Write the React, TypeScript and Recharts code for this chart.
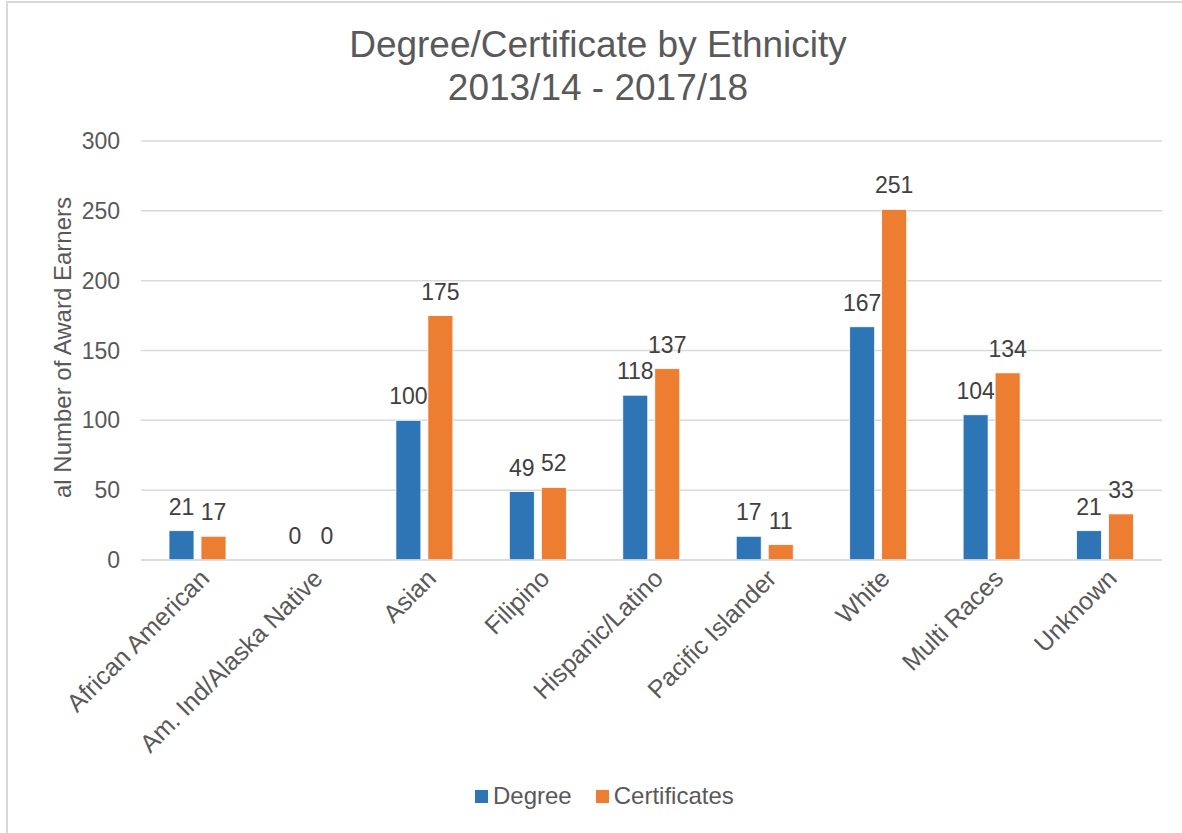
import React from "react";
import { BarChart, Bar, XAxis, YAxis, CartesianGrid } from "recharts";

const categories = [
  "African American",
  "Am. Ind/Alaska Native",
  "Asian",
  "Filipino",
  "Hispanic/Latino",
  "Pacific Islander",
  "White",
  "Multi Races",
  "Unknown",
];
const degree = [21, 0, 100, 49, 118, 17, 167, 104, 21];
const certificates = [17, 0, 175, 52, 137, 11, 251, 134, 33];
const yTicks = [0, 50, 100, 150, 200, 250, 300];

const data = categories.map((c, i) => ({ name: c, degree: degree[i], certificates: certificates[i] }));

const FONT = "Arial, 'Liberation Sans', sans-serif";
const TXT = "#595959";
const FS = 23;

const XTick = (props: any) => {
  const { x, y, payload } = props;
  return (
    <g transform={`translate(${x + 13},${y + 20})`}>
      <text transform="rotate(-45)" textAnchor="end" fontSize={25} fill={TXT} fontFamily={FONT}>
        {payload.value}
      </text>
    </g>
  );
};

const makeShape = (key: string) => (props: any) => {
  const { x, y, width, height, fill, payload } = props;
  const v = payload[key];
  return (
    <g>
      {height > 0 && <rect x={x} y={y} width={width} height={height} fill={fill} stroke="#fff" strokeWidth={0.8} />}
      <text
        x={x + width / 2}
        y={y - 16}
        textAnchor="middle"
        fontSize={FS}
        fill="#404040"
        fontFamily={FONT}
      >
        {v}
      </text>
    </g>
  );
};

const YLabel = (props: any) => {
  const vb = props.viewBox;
  const cy = vb.y + vb.height / 2 - 3;
  return (
    <text
      x={62}
      y={cy}
      transform={`rotate(-90, 62, ${cy})`}
      textAnchor="middle"
      dominantBaseline="central"
      fontSize={FS + 1}
      fill={TXT}
      fontFamily={FONT}
    >
      al Number of Award Earners
    </text>
  );
};

export default function App() {
  return (
    <div style={{ position: "absolute", left: 0, top: 0, width: 1182, height: 833, background: "#fff", fontFamily: FONT, overflow: "hidden" }}>
      <div style={{ position: "absolute", left: 6, top: 1, width: 1190, height: 850, border: "2px solid #d9d9d9", boxSizing: "border-box" }} />
      <div style={{ position: "absolute", left: 0, top: 23, width: 1196, textAlign: "center", fontSize: 37, color: TXT, lineHeight: "43px" }}>
        Degree/Certificate by Ethnicity
        <br />
        2013/14 - 2017/18
      </div>
      <div style={{ position: "absolute", left: 0, top: 0 }}>
        <BarChart
          width={1182}
          height={833}
          data={data}
          margin={{ top: 141, right: 20, left: 0, bottom: 73 }}
          barGap={7}
          barSize={25}
        >
          <CartesianGrid vertical={false} stroke="#d9d9d9" strokeWidth={1.5} />
          <XAxis
            dataKey="name"
            interval={0}
            tick={<XTick />}
            tickLine={false}
            tickSize={0}
            tickMargin={0}
            axisLine={{ stroke: "#d9d9d9", strokeWidth: 1.5 }}
            height={200}
          />
          <YAxis
            domain={[0, 300]}
            ticks={yTicks}
            width={141}
            tickLine={false}
            axisLine={false}
            tickSize={0}
            tickMargin={21}
            tick={{ fontSize: FS, fill: TXT, fontFamily: FONT }}
            label={<YLabel />}
          />
          <Bar dataKey="degree" fill="#2E75B6" isAnimationActive={false} shape={makeShape("degree")} />
          <Bar dataKey="certificates" fill="#ED7D31" isAnimationActive={false} shape={makeShape("certificates")} />
        </BarChart>
      </div>
      <div style={{ position: "absolute", left: 475, top: 782, display: "flex", fontSize: 24, color: TXT }}>
        <span style={{ display: "flex", alignItems: "center", marginRight: 24 }}>
          <span style={{ width: 13, height: 13, background: "#2E75B6", marginRight: 5 }} />
          Degree
        </span>
        <span style={{ display: "flex", alignItems: "center" }}>
          <span style={{ width: 13, height: 13, background: "#ED7D31", marginRight: 5 }} />
          Certificates
        </span>
      </div>
    </div>
  );
}
